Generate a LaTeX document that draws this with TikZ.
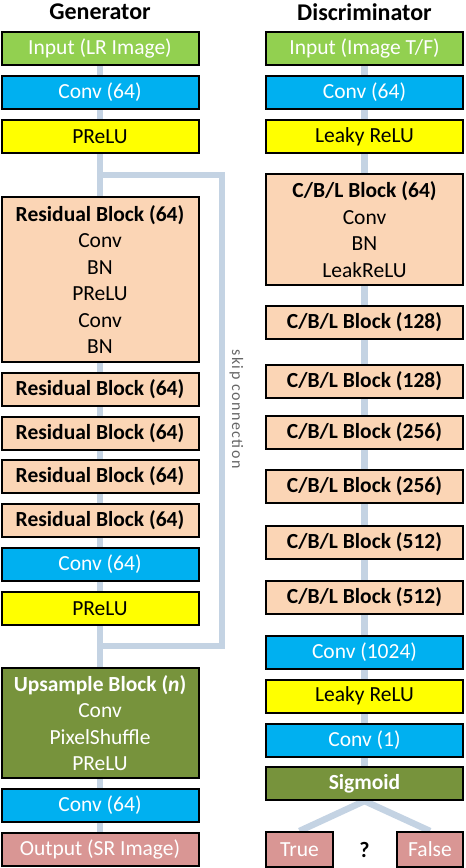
\documentclass[tikz,border=0pt]{standalone}
\usepackage{fontspec}
\setmainfont{Carlito}
\newfontfamily\skipfont[LetterSpace=9]{Carlito}
\usetikzlibrary{backgrounds}
\definecolor{ingreen}{HTML}{92D050}
\definecolor{convblue}{HTML}{00B0F0}
\definecolor{actyellow}{HTML}{FFFF00}
\definecolor{peach}{HTML}{FBD5B5}
\definecolor{olivegreen}{HTML}{77933C}
\definecolor{outpink}{HTML}{D99694}
\definecolor{linkblue}{HTML}{C4D3E3}
\tikzstyle{layer} = [draw = black, line width = 2pt, minimum width = 197pt, minimum height = 33pt, inner sep = 0pt, align = center, font = \fontsize{21.5}{26.5}\selectfont]
\tikzstyle{inbox} = [layer, fill = ingreen, text = white]
\tikzstyle{convbox} = [layer, fill = convblue, text = white]
\tikzstyle{actbox} = [layer, fill = actyellow, text = black]
\tikzstyle{blockbox} = [layer, fill = peach, text = black]
\tikzstyle{upbox} = [layer, fill = olivegreen, text = white]
\tikzstyle{outbox} = [layer, fill = outpink, text = white]
\tikzstyle{trunk} = [draw = linkblue, line width = 6.5pt]
\tikzstyle{title} = [font = \fontsize{24}{28}\selectfont\bfseries]

\begin{document}
\begin{tikzpicture}[x = 1pt, y = -1pt]
            \useasboundingbox (0, 0) rectangle (466, 868);
            % generator
            \node (gtitle) at (100, 12) [title] {Generator};
            \node (gin) at (100, 48.5) [inbox] {Input (LR Image)};
            \node (gconv) at (100, 92.5) [convbox] {Conv (64)};
            \node (gprelu) at (100, 136.5) [actbox] {PReLU};
            \node (res1) at (100, 279.5) [blockbox, minimum height = 165pt] {\textbf{Residual Block (64)}\\Conv\\BN\\PReLU\\Conv\\BN};
            \node (res2) at (100, 389) [blockbox] {\textbf{Residual Block (64)}};
            \node (res3) at (100, 433) [blockbox] {\textbf{Residual Block (64)}};
            \node (res4) at (100, 476.5) [blockbox] {\textbf{Residual Block (64)}};
            \node (res5) at (100, 520) [blockbox] {\textbf{Residual Block (64)}};
            \node (gconv2) at (100, 564.5) [convbox] {Conv (64)};
            \node (gprelu2) at (100, 608.5) [actbox] {PReLU};
            \node (up) at (100, 723) [upbox, minimum height = 110pt] {\textbf{Upsample Block (\textit{n})}\\Conv\\PixelShuffle\\PReLU};
            \node (gconv3) at (100, 805.5) [convbox] {Conv (64)};
            \node (gout) at (100, 849.5) [outbox] {Output (SR Image)};
            % skip connection
            \coordinate (skipa) at (100, 175);
            \coordinate (skipb) at (222, 175);
            \coordinate (skipc) at (222, 646);
            \coordinate (skipd) at (100, 646);
            \node (skiplabel) at (236.5, 409) [rotate = -90, text = black!60, font = \skipfont\fontsize{16}{18}\selectfont] {skip connection};
            % discriminator
            \node (dtitle) at (364.5, 12) [title] {Discriminator};
            \node (din) at (364.5, 48.5) [inbox] {Input (Image T/F)};
            \node (dconv) at (364.5, 92.5) [convbox] {Conv (64)};
            \node (dlrelu) at (364.5, 136.5) [actbox] {Leaky ReLU};
            \node (cbl1) at (364.5, 229.5) [blockbox, minimum height = 111pt] {\textbf{C/B/L Block (64)}\\Conv\\BN\\LeakReLU};
            \node (cbl2) at (364.5, 322.5) [blockbox] {\textbf{C/B/L Block (128)}};
            \node (cbl3) at (364.5, 381) [blockbox] {\textbf{C/B/L Block (128)}};
            \node (cbl4) at (364.5, 432) [blockbox] {\textbf{C/B/L Block (256)}};
            \node (cbl5) at (364.5, 486.5) [blockbox] {\textbf{C/B/L Block (256)}};
            \node (cbl6) at (364.5, 542) [blockbox] {\textbf{C/B/L Block (512)}};
            \node (cbl7) at (364.5, 597) [blockbox] {\textbf{C/B/L Block (512)}};
            \node (dconv2) at (364.5, 652) [convbox] {Conv (1024)};
            \node (dlrelu2) at (364.5, 696) [actbox] {Leaky ReLU};
            \node (dconv3) at (364.5, 740) [convbox] {Conv (1)};
            \node (sig) at (364.5, 783.5) [upbox] {\textbf{Sigmoid}};
            \node (true) at (299.5, 849.5) [outbox, minimum width = 67pt, minimum height = 35pt] {True};
            \node (false) at (430, 849.5) [outbox, minimum width = 66pt, minimum height = 35pt] {False};
            \node (query) at (364.5, 850) [title, font = \fontsize{22}{26}\selectfont\bfseries] {?};
            \begin{pgfonlayer}{background}
                \draw [trunk] (gin) -- (gconv);
                \draw [trunk] (gconv) -- (gprelu);
                \draw [trunk] (gprelu) -- (res1);
                \draw [trunk] (res1) -- (res2);
                \draw [trunk] (res2) -- (res3);
                \draw [trunk] (res3) -- (res4);
                \draw [trunk] (res4) -- (res5);
                \draw [trunk] (res5) -- (gconv2);
                \draw [trunk] (gconv2) -- (gprelu2);
                \draw [trunk] (gprelu2) -- (up);
                \draw [trunk] (up) -- (gconv3);
                \draw [trunk] (gconv3) -- (gout);
                \draw [trunk, line join = miter] (skipa) -- (skipb) -- (skipc) -- (skipd);
                \draw [trunk] (din) -- (dconv);
                \draw [trunk] (dconv) -- (dlrelu);
                \draw [trunk] (dlrelu) -- (cbl1);
                \draw [trunk] (cbl1) -- (cbl2);
                \draw [trunk] (cbl2) -- (cbl3);
                \draw [trunk] (cbl3) -- (cbl4);
                \draw [trunk] (cbl4) -- (cbl5);
                \draw [trunk] (cbl5) -- (cbl6);
                \draw [trunk] (cbl6) -- (cbl7);
                \draw [trunk] (cbl7) -- (dconv2);
                \draw [trunk] (dconv2) -- (dlrelu2);
                \draw [trunk] (dlrelu2) -- (dconv3);
                \draw [trunk] (dconv3) -- (sig);
                \draw [trunk] (sig.south) -- (true.north);
                \draw [trunk] (sig.south) -- (false.north);
            \end{pgfonlayer}
        \end{tikzpicture}
\end{document}
